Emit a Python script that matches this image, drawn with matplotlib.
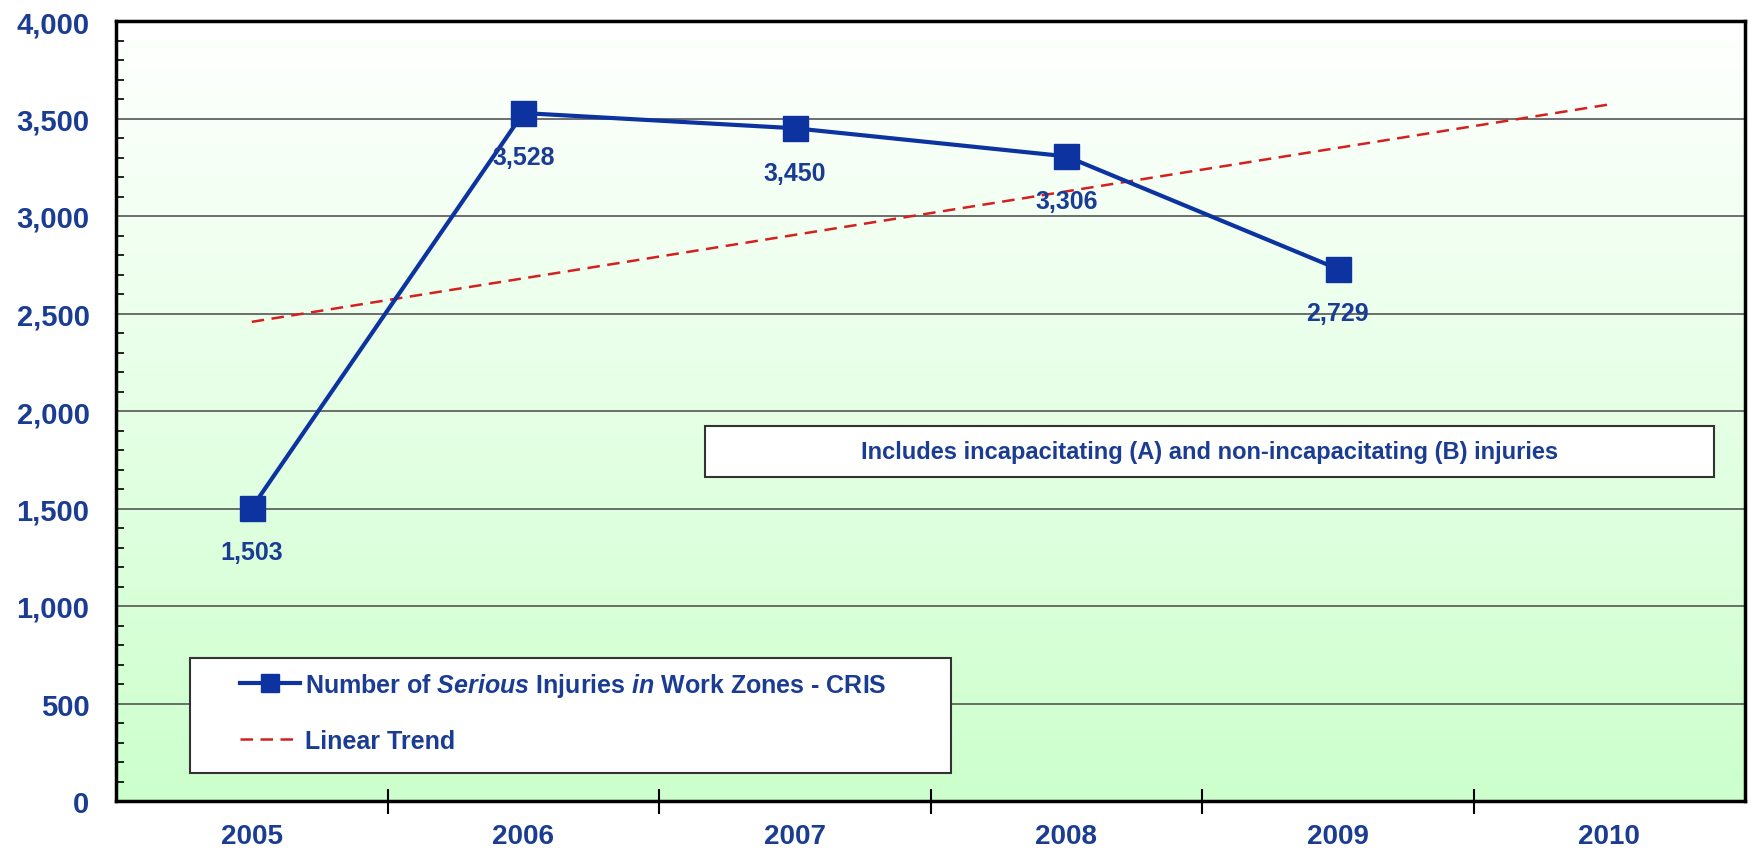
import numpy as np
import matplotlib
matplotlib.use("Agg")
import matplotlib.pyplot as plt
from matplotlib.patches import Rectangle
from matplotlib.ticker import MultipleLocator, FuncFormatter

# data
years = ["2005", "2006", "2007", "2008", "2009", "2010"]
injuries = [1503, 3528, 3450, 3306, 2729]
data_labels = ["1,503", "3,528", "3,450", "3,306", "2,729"]

series_name = r"Number of $\mathit{Serious}$ Injuries $\mathit{in}$ Work Zones - CRIS"
trend_name = "Linear Trend"
note_text = "Includes incapacitating (A) and non-incapacitating (B) injuries"

blue = "#0D33A0"
text_blue = "#1B3C93"
red = "#D42020"

plt.rcParams["font.family"] = ["Liberation Sans", "DejaVu Sans"]
plt.rcParams["mathtext.fontset"] = "custom"
plt.rcParams["mathtext.it"] = "Liberation Sans:italic:bold"
plt.rcParams["mathtext.rm"] = "Liberation Sans:bold"

fig = plt.figure(figsize=(17.51, 8.62), dpi=100)
W, H = 1751, 862
left, right, top, bottom = 116, 1745, 22, 802
ax = fig.add_axes([left / W, 1 - bottom / H, (right - left) / W, (bottom - top) / H])

x = np.arange(len(injuries))
ax.set_xlim(-0.5, len(years) - 0.5)

# background gradient white (top) -> light green (bottom)
grad = np.linspace(0, 1, 256).reshape(-1, 1)
top_c = np.array([1.0, 1.0, 1.0])
bot_c = np.array([0.80, 1.0, 0.80])
img = top_c * (1 - grad[..., None]) + bot_c * grad[..., None]
ax.imshow(img, extent=[-0.5, len(years) - 0.5, 0, 4000], aspect="auto",
          origin="upper", zorder=0)
ax.set_ylim(0, 4000)

# gridlines
for yv in range(500, 4000, 500):
    ax.axhline(yv, color="#555555", lw=1.2, zorder=1)

# linear trend from the data
coef = np.polyfit(x, injuries, 1)
xt = np.arange(len(years))
ax.plot(xt, np.polyval(coef, xt), color=red, lw=1.8, dashes=(5, 3), zorder=2,
        label=trend_name)

ax.plot(x, injuries, color=blue, lw=3, marker="s", markersize=18, zorder=3,
        label=series_name)

for xi, yi, lab in zip(x, injuries, data_labels):
    ax.annotate(lab, (xi, yi), xytext=(0, -32), textcoords="offset points",
                ha="center", va="center", fontsize=18, fontweight="bold",
                color=text_blue, zorder=4)

# axes styling
for s in ax.spines.values():
    s.set_linewidth(2.5)
    s.set_color("black")
    s.set_zorder(5)

ax.yaxis.set_major_locator(MultipleLocator(500))
ax.yaxis.set_minor_locator(MultipleLocator(100))
ax.yaxis.set_major_formatter(FuncFormatter(lambda v, p: f"{int(v):,}"))
ax.tick_params(axis="y", which="major", length=0, pad=19, labelsize=21,
               labelcolor=text_blue)
ax.tick_params(axis="y", which="minor", direction="in", length=6, width=1.2)
for t in ax.get_yticklabels():
    t.set_fontweight("bold")

ax.set_xticks(np.arange(len(years)))
ax.set_xticklabels(years, fontsize=20, fontweight="bold", color=text_blue)
ax.set_xticks(np.arange(len(years) - 1) + 0.5, minor=True)
ax.tick_params(axis="x", which="major", length=0, pad=16)
ax.tick_params(axis="x", which="minor", direction="inout", length=18, width=1.5)

# legend box
def ax_x(px):
    return (px - left) / (right - left)

def ax_y(py):
    return (bottom - py) / (bottom - top)

ax.add_patch(Rectangle((ax_x(190), ax_y(774)), ax_x(951) - ax_x(190),
                       ax_y(659) - ax_y(774), transform=ax.transAxes,
                       facecolor="white", edgecolor="#333333", lw=1.5, zorder=6))
handles, labels = ax.get_legend_handles_labels()
leg = ax.legend(handles[::-1], labels[::-1], loc="upper left",
                bbox_to_anchor=(ax_x(240), ax_y(672)), frameon=False,
                borderpad=0, borderaxespad=0, handlelength=2.4,
                handletextpad=0.2, labelspacing=1.2,
                prop={"weight": "bold", "size": 18})
leg.set_zorder(7)
for t in leg.get_texts():
    t.set_color(text_blue)
for h in leg.legend_handles:
    if h.get_marker() == "s":
        h.set_markersize(13)

# note box
ax.add_patch(Rectangle((ax_x(705), ax_y(478)), ax_x(1714) - ax_x(705),
                       ax_y(427) - ax_y(478), transform=ax.transAxes,
                       facecolor="white", edgecolor="#333333", lw=1.5, zorder=6))
ax.text((ax_x(705) + ax_x(1714)) / 2, (ax_y(478) + ax_y(427)) / 2, note_text,
        transform=ax.transAxes, ha="center", va="center", fontsize=17,
        fontweight="bold", color=text_blue, zorder=7)

fig.savefig("out.png", dpi=100)
